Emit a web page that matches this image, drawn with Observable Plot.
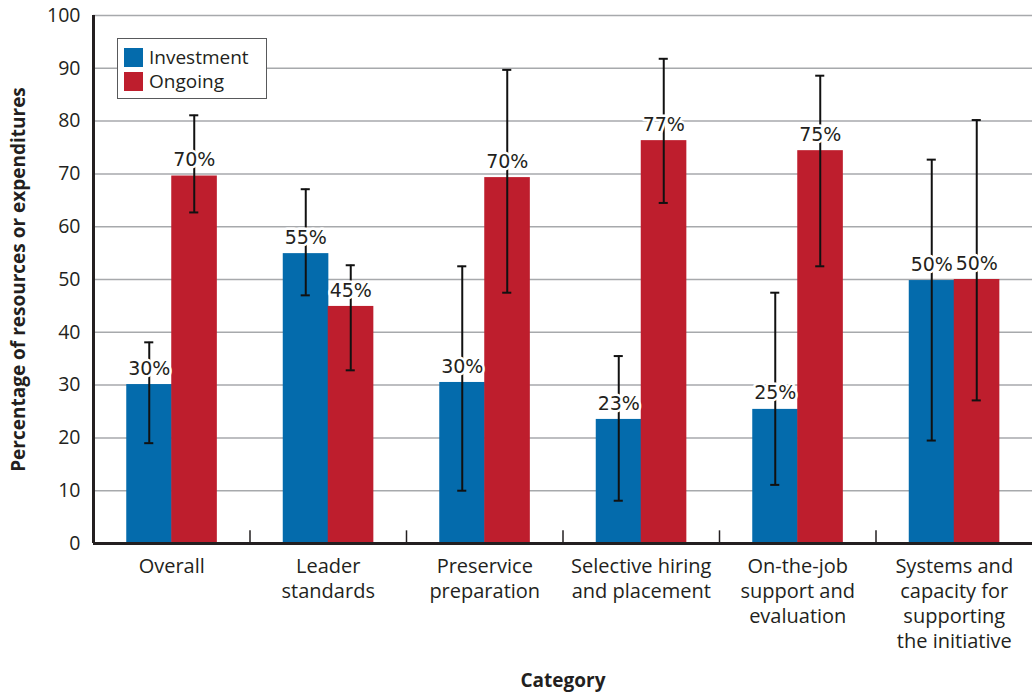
<!DOCTYPE html>
<html><head><meta charset="utf-8">
<script src="https://cdn.jsdelivr.net/npm/d3@7"></script>
<script src="https://cdn.jsdelivr.net/npm/@observablehq/plot@0.6"></script>
<style>
body{margin:0;background:#fff;}
#wrap{position:relative;width:1032px;height:692px;overflow:hidden;}
#legend{position:absolute;left:117px;top:38px;width:148px;height:59px;border:1.5px solid #58595b;background:#fff;font-family:"Open Sans",sans-serif;font-size:19px;color:#231f20;}
#legend .row{position:absolute;left:6px;display:flex;align-items:center;height:20px;}
#legend .sw{width:19px;height:19px;margin-right:6px;}
</style></head><body><div id="wrap"></div>
<script>
const categories = ["Overall","Leader\nstandards","Preservice\npreparation","Selective hiring\nand placement","On-the-job\nsupport and\nevaluation","Systems and\ncapacity for\nsupporting\nthe initiative"];
const series = ["Investment","Ongoing"];
const investment = [30.1, 54.9, 30.5, 23.5, 25.4, 49.8];
const ongoing = [69.6, 44.9, 69.3, 76.3, 74.4, 50.0];
const investmentLabels = ["30%","55%","30%","23%","25%","50%"];
const ongoingLabels = ["70%","45%","70%","77%","75%","50%"];
const investmentLow = [19.0, 47.0, 10.0, 8.1, 11.1, 19.5];
const investmentHigh = [38.1, 67.1, 52.5, 35.5, 47.5, 72.7];
const ongoingLow = [62.7, 32.8, 47.5, 64.5, 52.5, 27.1];
const ongoingHigh = [81.1, 52.7, 89.7, 91.8, 88.6, 80.2];
const yTicks = [0,10,20,30,40,50,60,70,80,90,100];
const colors = ["#046bac", "#be1e2d"];

// layout constants (in category-index units)
const barW = 0.2875;
const capHalf = 0.029;

const rows = [];
categories.forEach((c, i) => {
  rows.push({idx: i, series: "Investment", x1: i - barW, x2: i, xm: i - barW / 2, value: investment[i], label: investmentLabels[i], low: investmentLow[i], high: investmentHigh[i]});
  rows.push({idx: i, series: "Ongoing", x1: i, x2: i + barW, xm: i + barW / 2, value: ongoing[i], label: ongoingLabels[i], low: ongoingLow[i], high: ongoingHigh[i]});
});
const boundaries = categories.slice(1).map((_, i) => i + 0.5);

const axisFont = "Open Sans, sans-serif";
const ink = "#231f20";

const chart = Plot.plot({
  width: 1032, height: 692,
  marginTop: 15, marginBottom: 149, marginLeft: 93, marginRight: 0,
  style: {fontFamily: axisFont, background: "#fff", color: ink},
  x: {domain: [-0.5, categories.length - 0.5], axis: null},
  y: {domain: [0, 100], axis: null},
  color: {domain: series, range: colors},
  marks: [
    Plot.ruleY(yTicks, {y: d => d, stroke: "#a7a9ac", strokeWidth: 1.5}),
    Plot.rectY(rows, {x1: "x1", x2: "x2", y: "value", fill: "series", insetRight: -0.6}),
    Plot.ruleX(rows, {x: "xm", y1: "low", y2: "high", stroke: "#111", strokeWidth: 2}),
    Plot.ruleY(rows, {y: "low", x1: d => d.xm - capHalf, x2: d => d.xm + capHalf, stroke: "#111", strokeWidth: 2}),
    Plot.ruleY(rows, {y: "high", x1: d => d.xm - capHalf, x2: d => d.xm + capHalf, stroke: "#111", strokeWidth: 2}),
    Plot.text(rows, {x: "xm", y: "value", text: "label", dy: -16, lineAnchor: "middle", fontSize: 19, fontFamily: "DejaVu Sans", fill: ink, stroke: "white", strokeWidth: 5}),
    Plot.ruleX(boundaries, {x: d => d, y1: 0, y2: 2.4, stroke: ink, strokeWidth: 1.5}),
    Plot.ruleY([0], {y: d => d, stroke: ink, strokeWidth: 3}),
    Plot.ruleX([-0.5], {x: d => d, stroke: ink, strokeWidth: 3}),
    Plot.axisY({ticks: yTicks, tickSize: 0, tickPadding: 13, fontSize: 19.5, label: null, fill: ink}),
    Plot.axisX({ticks: categories.map((_, i) => i), tickFormat: i => categories[i], tickSize: 0, tickPadding: 12, fontSize: 20, lineHeight: 1.25, label: null, fill: ink}),
    Plot.text(["Category"], {frameAnchor: "bottom", dy: 143, fontSize: 19, fontWeight: "bold", fill: ink}),
    Plot.text(["Percentage of resources or expenditures"], {frameAnchor: "left", textAnchor: "middle", rotate: -90, dx: -75, fontSize: 19, fontWeight: "bold", fill: ink})
  ]
});

const wrap = document.getElementById("wrap");
wrap.appendChild(chart);
const legend = document.createElement("div");
legend.id = "legend";
series.forEach((s, i) => {
  const row = document.createElement("div");
  row.className = "row";
  row.style.top = (8 + i * 24) + "px";
  row.innerHTML = `<div class="sw" style="background:${colors[i]}"></div><span>${s}</span>`;
  legend.appendChild(row);
});
wrap.appendChild(legend);
</script></body></html>
